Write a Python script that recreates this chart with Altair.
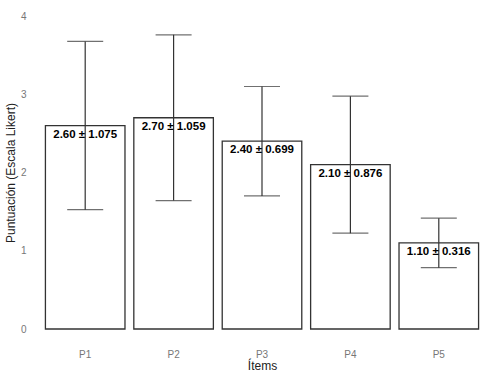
import altair as alt
import pandas as pd

items = ["P1", "P2", "P3", "P4", "P5"]
means = [2.60, 2.70, 2.40, 2.10, 1.10]
sds = [1.075, 1.059, 0.699, 0.876, 0.316]

df = pd.DataFrame({"item": items, "mean": means, "sd": sds})
df["lo"] = df["mean"] - df["sd"]
df["hi"] = df["mean"] + df["sd"]
df["label"] = [f"{m:.2f} ± {s:.3f}" for m, s in zip(means, sds)]

FONT = "Liberation Sans"

x = alt.X("item:N", title="Ítems", sort=items,
          scale=alt.Scale(paddingInner=0.1, paddingOuter=0.05),
          axis=alt.Axis(labelAngle=0, domain=False, ticks=False, labelPadding=20,
                        labelColor="#777777", labelFontSize=10, labelFont=FONT,
                        titleFont=FONT, titleFontSize=12, titleFontWeight="normal",
                        titleColor="#222222", titlePadding=1))
y_scale = alt.Scale(domain=[0, 4], nice=False)

bars = alt.Chart(df).mark_bar(fill="white", stroke="#333333", strokeWidth=1.3).encode(
    x=x,
    y=alt.Y("mean:Q", scale=y_scale, title="Puntuación (Escala Likert)",
            axis=alt.Axis(values=[0, 1, 2, 3, 4], format="d", grid=False, domain=False, ticks=False,
                          labelPadding=15, labelColor="#777777", labelFontSize=10,
                          labelFont=FONT, titleFont=FONT, titleFontSize=12,
                          titleFontWeight="normal", titleColor="#222222", titlePadding=3)),
)

err = alt.Chart(df).mark_rule(color="#333333", strokeWidth=1.2).encode(
    x="item:N", y=alt.Y("lo:Q", scale=y_scale), y2="hi:Q"
)
cap_hi = alt.Chart(df).mark_tick(color="#333333", thickness=1.2, size=36, orient="horizontal").encode(
    x="item:N", y=alt.Y("hi:Q", scale=y_scale)
)
cap_lo = alt.Chart(df).mark_tick(color="#333333", thickness=1.2, size=36, orient="horizontal").encode(
    x="item:N", y=alt.Y("lo:Q", scale=y_scale)
)

text = alt.Chart(df).mark_text(baseline="top", dy=3, fontWeight="bold", fontSize=11.5,
                               font=FONT, color="black").encode(
    x="item:N", y=alt.Y("mean:Q", scale=y_scale), text="label:N"
)

chart = alt.layer(bars, err, cap_hi, cap_lo, text).properties(
    width=442, height=313,
    padding={"left": 41, "top": 16, "right": 11, "bottom": 47},
    autosize=alt.AutoSizeParams(type="none"),
).configure_view(stroke=None)

chart.save("out.html", embed_options={"renderer": "svg", "actions": False})
